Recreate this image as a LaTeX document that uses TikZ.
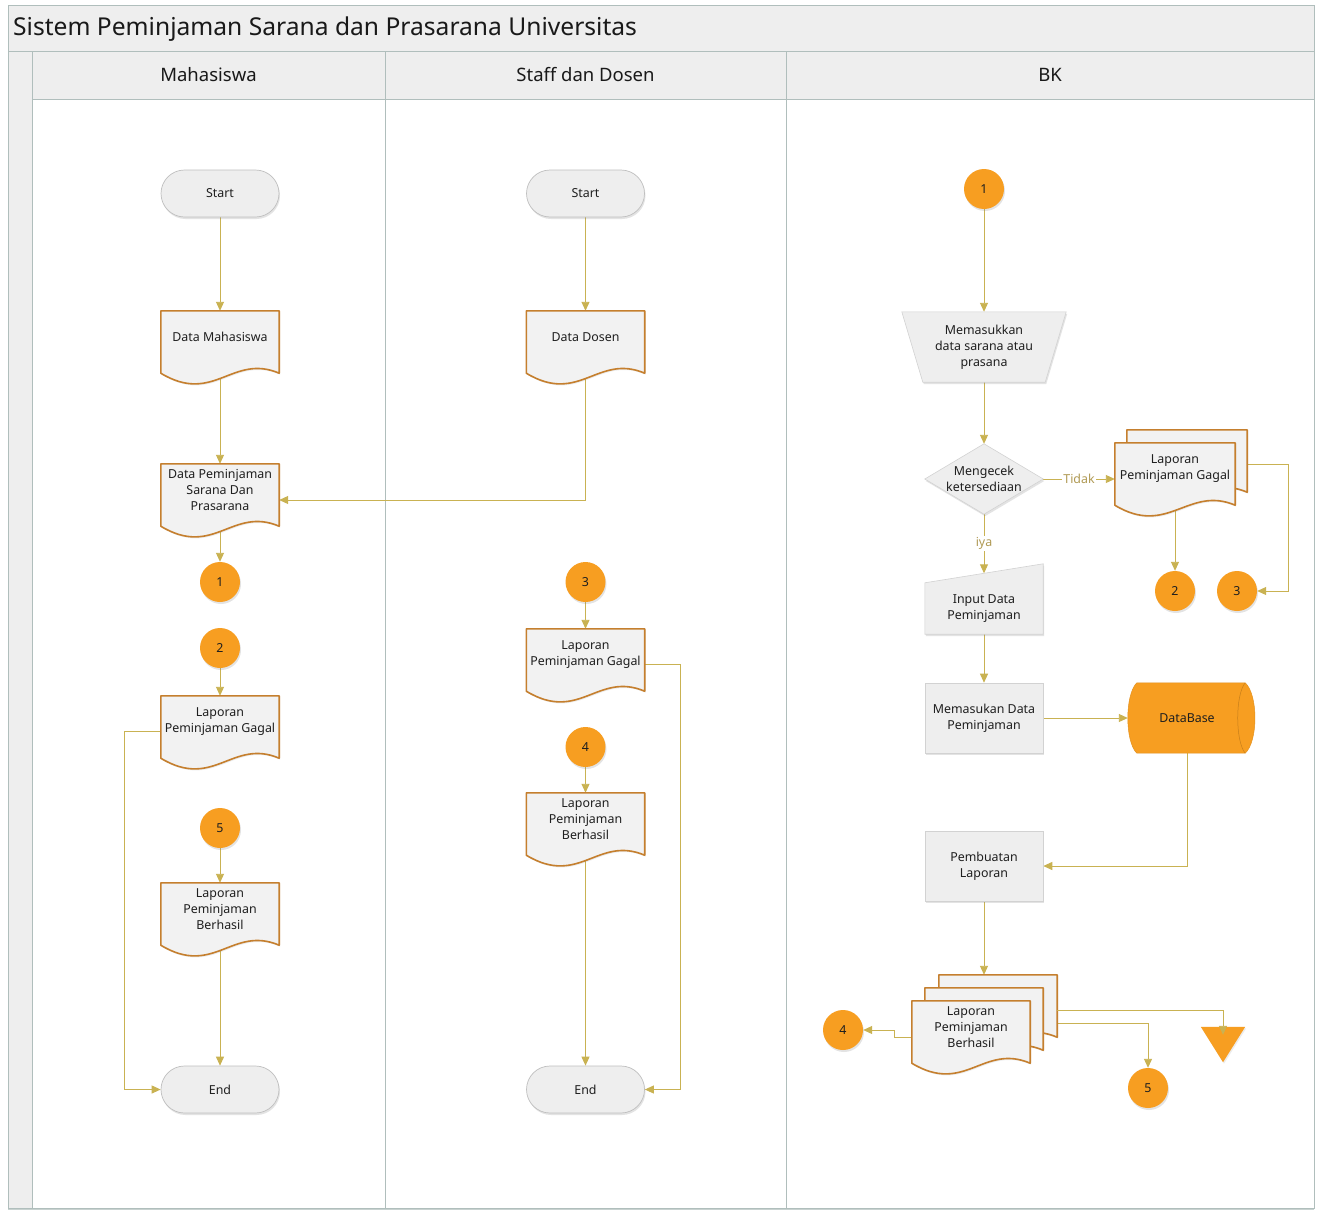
\documentclass[tikz,border=0pt]{standalone}
\usepackage{fontspec}
\setmainfont{Noto Sans}
\usetikzlibrary{shapes.misc,shapes.geometric,arrows.meta,calc,shadows}
\definecolor{wirec}{RGB}{201,178,82}
\definecolor{docb}{RGB}{197,127,46}
\definecolor{docf}{RGB}{242,242,242}
\definecolor{orng}{RGB}{247,158,33}
\definecolor{procf}{RGB}{238,238,238}
\definecolor{procb}{RGB}{210,210,210}
\definecolor{lanel}{RGB}{176,190,188}
\definecolor{headf}{RGB}{238,238,238}
\definecolor{lblc}{RGB}{176,154,84}
\pgfdeclarelayer{lanes}
\pgfdeclarelayer{wires}
\pgfdeclarelayer{shapes}
\pgfsetlayers{lanes,wires,shapes,main}
\tikzset{
  txt/.style={font=\fontsize{12.4}{16}\selectfont, align=center, text=black!88},
  wire/.style={draw=wirec, line width=0.9pt, -{Triangle[length=9pt,width=8pt]}},
  softshadow/.style={drop shadow={opacity=0.22,shadow xshift=1pt,shadow yshift=-2pt}},
  term/.style={txt, rounded rectangle, minimum width=118pt, minimum height=47pt, inner sep=0pt, fill=procf, draw=black!25, line width=0.7pt, softshadow},
  oc/.style={txt, circle, minimum size=40pt, inner sep=0pt, fill=orng, softshadow},
  docnode/.style={txt, rectangle, minimum width=118pt, minimum height=52pt, inner sep=0pt},
  procbox/.style={txt, rectangle, minimum width=118pt, minimum height=70pt, inner sep=0pt, fill=procf, draw=procb, line width=0.6pt, softshadow},
  blank/.style={txt, rectangle, inner sep=0pt},
  shapefill/.style={fill=procf, draw=procb, line width=0.6pt, softshadow},
  docline/.style={fill=docf, draw=docb, line width=1.6pt, line join=round, drop shadow={opacity=0.15,shadow xshift=1pt,shadow yshift=-1.5pt}},
  lbl/.style={font=\fontsize{12.4}{16}\selectfont, text=lblc, fill=white, inner sep=1.5pt},
  lanebox/.style={draw=lanel, line width=0.9pt},
  headbox/.style={draw=lanel, line width=0.9pt, fill=headf},
  headtxt/.style={font=\fontsize{18.5}{22}\selectfont, text=black!90},
}
\newcommand{\docshape}[1]{%
  \begin{pgfonlayer}{shapes}
  \draw[docline] (#1.north west) -- (#1.north east) -- ($(#1.south east)+(0,10)$)
    .. controls ($(#1.south east)+(-47,-10)$) and ($(#1.south west)+(53,42)$) .. ($(#1.south west)+(0,10)$) -- cycle;
  \end{pgfonlayer}}
\begin{document}
\begin{tikzpicture}[x=1pt,y=-1pt]
\useasboundingbox (0,0) rectangle (1321,1218);
% ---------------- pool and lanes
\begin{pgfonlayer}{lanes}
  \fill[white] (0,0) rectangle (1321,1218);
  \draw[headbox] (8,5) rectangle (1314,51);
  \draw[headbox] (8,51) rectangle (32,1208);
  \draw[headbox] (32,51) rectangle (385,99);
  \draw[headbox] (385,51) rectangle (786,99);
  \draw[headbox] (786,51) rectangle (1314,99);
  \draw[lanebox] (32,99) rectangle (385,1208);
  \draw[lanebox] (385,99) rectangle (786,1208);
  \draw[lanebox] (786,99) rectangle (1314,1208);
  \draw[lanel!70, line width=1.5pt] (8,1209.5) -- (1314,1209.5);
\end{pgfonlayer}
\node[anchor=west, font=\fontsize{24.6}{30}\selectfont, text=black!90, inner sep=0pt] (title) at (13,29) {Sistem Peminjaman Sarana dan Prasarana Universitas};
\node[headtxt] (h1) at (208.5,75) {Mahasiswa};
\node[headtxt] (h2) at (585.5,75) {Staff dan Dosen};
\node[headtxt] (h3) at (1050,75) {BK};

% ---------------- Mahasiswa lane
\node[term] (s1) at (220,193.5) {Start};
\node[docnode] (dm) at (220,337) {Data Mahasiswa};
\node[docnode] (dp) at (220,490) {Data Peminjaman\\Sarana Dan\\Prasarana};
\node[oc] (c1m) at (220,582) {1};
\node[oc] (c2m) at (220,648) {2};
\node[docnode] (lg1) at (220,722) {Laporan\\Peminjaman Gagal};
\node[oc] (c5m) at (220,828) {5};
\node[docnode] (lb1) at (220,909) {Laporan\\Peminjaman\\Berhasil};
\node[term] (e1) at (220,1089.5) {End};
\docshape{dm}\docshape{dp}\docshape{lg1}\docshape{lb1}

% ---------------- Staff lane
\node[term] (s2) at (585.5,193.5) {Start};
\node[docnode] (dd) at (585.5,337) {Data Dosen};
\node[oc] (c3s) at (585.5,582) {3};
\node[docnode] (lg2) at (585.5,655) {Laporan\\Peminjaman Gagal};
\node[oc] (c4s) at (585.5,747) {4};
\node[docnode] (lb2) at (585.5,819) {Laporan\\Peminjaman\\Berhasil};
\node[term] (e2) at (585.5,1089.5) {End};
\docshape{dd}\docshape{lg2}\docshape{lb2}

% ---------------- BK lane
\node[oc] (c1b) at (984,189) {1};
\node[blank, minimum width=164pt, minimum height=70pt] (mo) at (984,347) {Memasukkan\\data sarana atau\\prasana};
\node[blank, minimum width=118pt, minimum height=70pt] (dia) at (984,479) {Mengecek\\ketersediaan};
\node[docnode, minimum width=120pt] (mgb) at (1187,456) {};
\node[docnode, minimum width=120pt] (mg) at (1175,469) {Laporan\\Peminjaman Gagal};
\node[oc] (c2b) at (1175,591) {2};
\node[oc] (c3b) at (1237,591) {3};
\node[blank, minimum width=118pt, minimum height=51pt] (inp) at (984,608.5) {Input Data\\Peminjaman};
\node[procbox] (pd) at (984,718) {Memasukan Data\\Peminjaman};
\node[blank, minimum width=118pt, minimum height=70pt] (db) at (1187,718) {DataBase};
\node[procbox] (pl) at (984,866) {Pembuatan\\Laporan};
\node[docnode] (mb3) at (998,1001) {};
\node[docnode] (mb2) at (984,1014) {};
\node[docnode] (mb1) at (971,1027) {Laporan\\Peminjaman\\Berhasil};
\node[oc] (c4b) at (843,1030) {4};
\node[oc] (c5b) at (1148,1088) {5};
\node[blank, minimum width=44pt, minimum height=35pt] (tri) at (1223,1044.5) {};

\begin{pgfonlayer}{shapes}
  \draw[shapefill] (mo.north west) -- (mo.north east) -- ($(mo.south east)+(-21,0)$) -- ($(mo.south west)+(21,0)$) -- cycle;
  \draw[shapefill] (dia.north) -- (dia.east) -- (dia.south) -- (dia.west) -- cycle;
  \draw[shapefill] (inp.north west) -- ($(inp.north east)+(0,-19)$) -- (inp.south east) -- (inp.south west) -- cycle;
  \draw[fill=orng, draw=orng!92!black, line width=0.5pt]
    ($(db.north west)+(9,0)$) -- ($(db.north east)+(-1,0)$)
    .. controls ($(db.north east)+(12,12)$) and ($(db.south east)+(12,-12)$) .. ($(db.south east)+(-1,0)$)
    -- ($(db.south west)+(9,0)$)
    .. controls ($(db.south west)+(-3,-12)$) and ($(db.north west)+(-3,12)$) .. ($(db.north west)+(9,0)$) -- cycle;
  \draw[draw=orng!80!black, line width=0.5pt] ($(db.north east)+(-1,0)$)
    .. controls ($(db.north east)+(-11,12)$) and ($(db.south east)+(-11,-12)$) .. ($(db.south east)+(-1,0)$);
  \fill[orng, drop shadow={opacity=0.15,shadow xshift=1pt,shadow yshift=-1.5pt}] (tri.north west) -- (tri.north east) -- (tri.south) -- cycle;
\end{pgfonlayer}
\docshape{mgb}\docshape{mg}
\docshape{mb3}\docshape{mb2}\docshape{mb1}

% ---------------- connectors
\begin{pgfonlayer}{wires}
  % Mahasiswa
  \draw[wire] (s1.south) -- (dm.north);
  \draw[wire] (dm.south) -- (dp.north);
  \draw[wire] (dp.south) -- (c1m.north);
  \draw[wire] (c2m.south) -- (lg1.north);
  \draw[wire] (c5m.south) -- (lb1.north);
  \draw[wire] (lb1.south) -- (e1.north);
  \draw[wire] ($(lg1.west)+(0,9)$) -- ++(-36,0) |- (e1.west);
  % Staff
  \draw[wire] (s2.south) -- (dd.north);
  \draw[wire] (dd.south) |- ($(dp.east)+(0,10)$);
  \draw[wire] (c3s.south) -- (lg2.north);
  \draw[wire] (c4s.south) -- (lb2.north);
  \draw[wire] (lb2.south) -- (e2.north);
  \draw[wire] ($(lg2.east)+(0,9)$) -- ++(36,0) |- (e2.east);
  % BK
  \draw[wire] (c1b.south) -- (mo.north);
  \draw[wire] (mo.south) -- (dia.north);
  \draw[wire] (dia.east) -- node[lbl]{Tidak} (dia.east -| mg.west);
  \draw[wire] ($(mgb.east)+(0,8)$) -- ++(41,0) |- (c3b.east);
  \draw[wire] (mg.south) -- (c2b.north);
  \draw[wire] (dia.south) -- node[lbl, pos=0.5]{iya} ($(inp.north)+(0,-9.5)$);
  \draw[wire] (inp.south) -- (pd.north);
  \draw[wire] (pd.east) -- (db.west);
  \draw[wire] (db.south) |- (pl.east);
  \draw[wire] (pl.south) -- (pl.south |- mb3.north);
  \draw[wire] ($(mb1.west)+(0,10)$) -- ++(-17,0) |- (c4b.east);
  \draw[wire] ($(mb2.east)+(0,9)$) -| (c5b.north);
\end{pgfonlayer}
\draw[wire, shorten >=-8pt] ($(mb3.east)+(0,9)$) -| (tri.north);
\end{tikzpicture}
\end{document}
